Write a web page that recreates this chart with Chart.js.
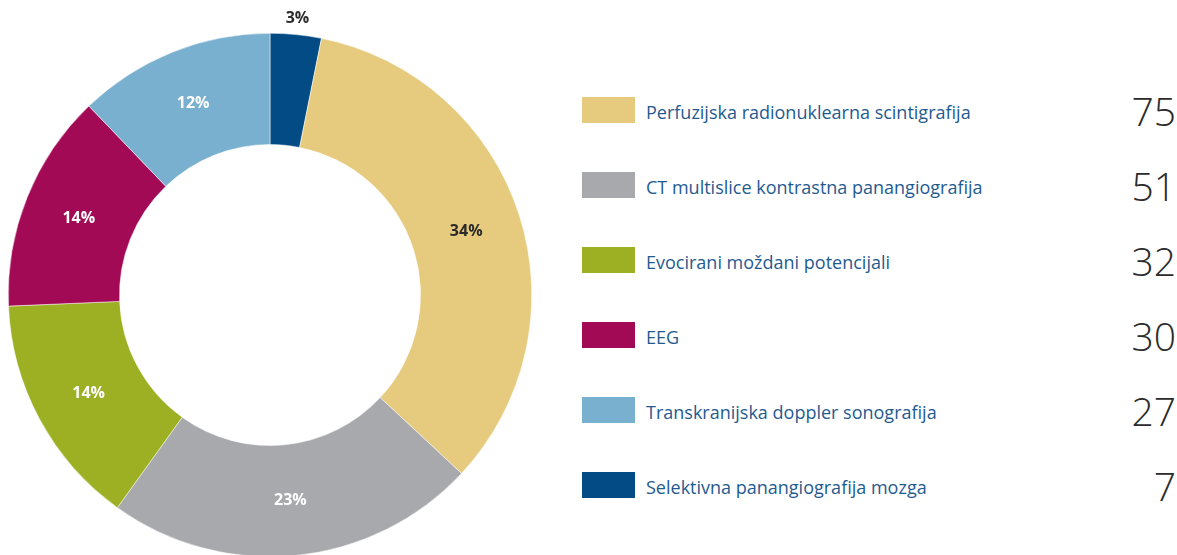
<!DOCTYPE html>
<html>
<head>
<meta charset="utf-8">
<script src="https://cdn.jsdelivr.net/npm/chart.js@4"></script>
<style>
  html, body { margin: 0; padding: 0; background: #fff; overflow: hidden; width: 1177px; height: 555px; }
  #wrap { position: absolute; left: 0; top: 0; width: 540px; height: 590px; }
  .row { position: absolute; left: 582px; width: 595px; height: 26px; }
  .sw { position: absolute; left: 0; top: 0; width: 53px; height: 26px; }
  .lbl { position: absolute; left: 64px; top: 3px; font: 18px "Open Sans", sans-serif; color: #1f5b8f; white-space: nowrap; }
  .val { position: absolute; right: 1px; top: -13px; font: 300 39px "Open Sans", sans-serif; color: #2b2b2b; }
</style>
</head>
<body>
<div id="wrap"><canvas id="donut" width="540" height="590"></canvas></div>
<div id="legend"></div>
<script>
const categories = [
  'Selektivna panangiografija mozga',
  'Perfuzijska radionuklearna scintigrafija',
  'CT multislice kontrastna panangiografija',
  'Evocirani moždani potencijali',
  'EEG',
  'Transkranijska doppler sonografija'
];
const counts = [7, 75, 51, 32, 30, 27];
const colors = ['#034b85', '#e6cb7e', '#a8a9ad', '#9daf23', '#a20a56', '#79b0cf'];
const labelColors = ['#2b2b2b', '#2b2b2b', '#ffffff', '#ffffff', '#ffffff', '#ffffff'];
// legend order as in the picture (indexes into the arrays above)
const legendOrder = [1, 2, 3, 4, 5, 0];

const total = counts.reduce((a, b) => a + b, 0);

const pctLabels = {
  id: 'pctLabels',
  afterDatasetsDraw(chart) {
    const ctx = chart.ctx;
    const arcs = chart.getDatasetMeta(0).data;
    ctx.save();
    ctx.font = 'bold 16px "Open Sans", sans-serif';
    ctx.textAlign = 'center';
    ctx.textBaseline = 'middle';
    arcs.forEach((arc, i) => {
      const p = arc.getProps(['x', 'y', 'startAngle', 'endAngle', 'innerRadius', 'outerRadius']);
      const pct = Math.round(counts[i] / total * 100);
      const mid = (p.startAngle + p.endAngle) / 2;
      let r = (p.innerRadius + p.outerRadius) / 2;
      if (pct < 5) r = p.outerRadius + 16;
      ctx.fillStyle = labelColors[i];
      ctx.fillText(pct + '%', p.x + Math.cos(mid) * r, p.y + Math.sin(mid) * r);
    });
    ctx.restore();
  }
};

new Chart(document.getElementById('donut').getContext('2d'), {
  type: 'doughnut',
  data: {
    labels: categories,
    datasets: [{
      data: counts,
      backgroundColor: colors,
      borderColor: '#ffffff',
      borderWidth: 0.5,
      hoverOffset: 0
    }]
  },
  options: {
    responsive: false,
    animation: false,
    cutout: '57.5%',
    layout: { padding: { top: 33, bottom: 33, left: 8, right: 8 } },
    plugins: { legend: { display: false }, tooltip: { enabled: false } }
  },
  plugins: [pctLabels]
});

const legend = document.getElementById('legend');
legendOrder.forEach((idx, row) => {
  const div = document.createElement('div');
  div.className = 'row';
  div.style.top = (97 + row * 75) + 'px';
  div.innerHTML = '<div class="sw" style="background:' + colors[idx] + '"></div>' +
    '<div class="lbl">' + categories[idx] + '</div>' +
    '<div class="val">' + counts[idx] + '</div>';
  legend.appendChild(div);
});
</script>
</body>
</html>
